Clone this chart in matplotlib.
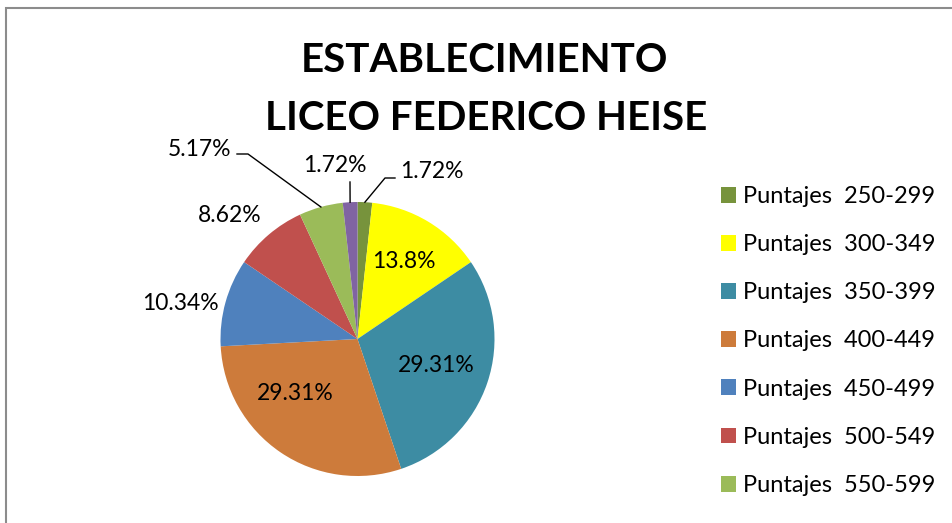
import matplotlib
matplotlib.use("Agg")
import matplotlib.pyplot as plt
from matplotlib.patches import Rectangle, Patch
import numpy as np

plt.rcParams['font.family'] = ['Lato', 'DejaVu Sans']

title_lines = ["ESTABLECIMIENTO", "LICEO FEDERICO HEISE"]
categories = ["Puntajes  250-299", "Puntajes  300-349", "Puntajes  350-399",
              "Puntajes  400-449", "Puntajes  450-499", "Puntajes  500-549",
              "Puntajes  550-599", "Puntajes  600-649"]
values = [1.72, 13.8, 29.31, 29.31, 10.34, 8.62, 5.17, 1.72]
labels = ["1.72%", "13.8%", "29.31%", "29.31%", "10.34%", "8.62%", "5.17%", "1.72%"]
colors = ["#77933C", "#FFFF00", "#3D8CA3", "#CD7B3B", "#4F81BD", "#C0504D", "#9BBB59", "#8064A2"]

W, H = 952, 523
fig = plt.figure(figsize=(W / 100, H / 100), dpi=100)

# frame (open to the right and bottom, as in the cropped reference)
fig.patches.append(Rectangle((6 / W, -1), 2, (H - 8) / H + 1, transform=fig.transFigure,
                             fill=False, edgecolor="#8c8c8c", linewidth=1.5))

# title
fig.text(484 / W, 1 - 60 / H, title_lines[0], ha="center", va="center",
         fontsize=29, fontweight="bold")
fig.text(486 / W, 1 - 118 / H, title_lines[1], ha="center", va="center",
         fontsize=29, fontweight="bold")

R = 137.0
cx, cy = 357.5, 339.0
a = 1.6
ax = fig.add_axes([(cx - a * R) / W, (H - cy - a * R) / H, 2 * a * R / W, 2 * a * R / H])

wedges, _ = ax.pie(values, colors=colors, startangle=90, counterclock=False,
                   radius=1.0, wedgeprops=dict(linewidth=0))
ax.set_xlim(-a, a)
ax.set_ylim(-a, a)
ax.set_aspect("equal")
ax.axis("off")

def px(x, y):
    return (x - cx) / R, (cy - y) / R

fs = 16.5
# inside labels (13.8, teal)
for i, r in [(1, 0.66), (2, 0.61)]:
    w = wedges[i]
    th = np.deg2rad((w.theta1 + w.theta2) / 2)
    ax.text(r * np.cos(th), r * np.sin(th), labels[i], ha="center", va="center",
            fontsize=fs, clip_on=False)
ax.text(*px(295, 394), labels[3], ha="center", va="center", fontsize=fs, clip_on=False)

# outside labels
ax.text(*px(180, 304), labels[4], ha="center", va="center", fontsize=fs, clip_on=False)
ax.text(*px(230, 215), labels[5], ha="center", va="center", fontsize=fs, clip_on=False)
ax.text(*px(231, 150), labels[6], ha="right", va="center", fontsize=fs, clip_on=False)
ax.text(*px(334.5, 166), labels[7], ha="center", va="center", fontsize=fs, clip_on=False)
ax.text(*px(400, 171), labels[0], ha="left", va="center", fontsize=fs, clip_on=False)

def rim(i):
    w = wedges[i]
    th = np.deg2rad((w.theta1 + w.theta2) / 2)
    return np.cos(th), np.sin(th)

# leader lines
def leader(pts, i):
    xs = [p[0] for p in pts] + [rim(i)[0]]
    ys = [p[1] for p in pts] + [rim(i)[1]]
    ax.plot(xs, ys, color="black", linewidth=1.0, clip_on=False)

leader([px(237, 154), px(248, 154)], 6)
leader([px(350, 182)], 7)
leader([px(395, 178), px(385, 178)], 0)

handles = [Patch(facecolor=colors[i], edgecolor="none") for i in range(7)]
fig.legend(handles, categories[:7], loc="upper left",
           bbox_to_anchor=(721 / W, 1 - 186 / H), frameon=False, fontsize=17,
           handlelength=0.65, handleheight=0.65, handletextpad=0.3,
           labelspacing=1.15, borderaxespad=0, borderpad=0)

fig.savefig("out.png", dpi=100)
